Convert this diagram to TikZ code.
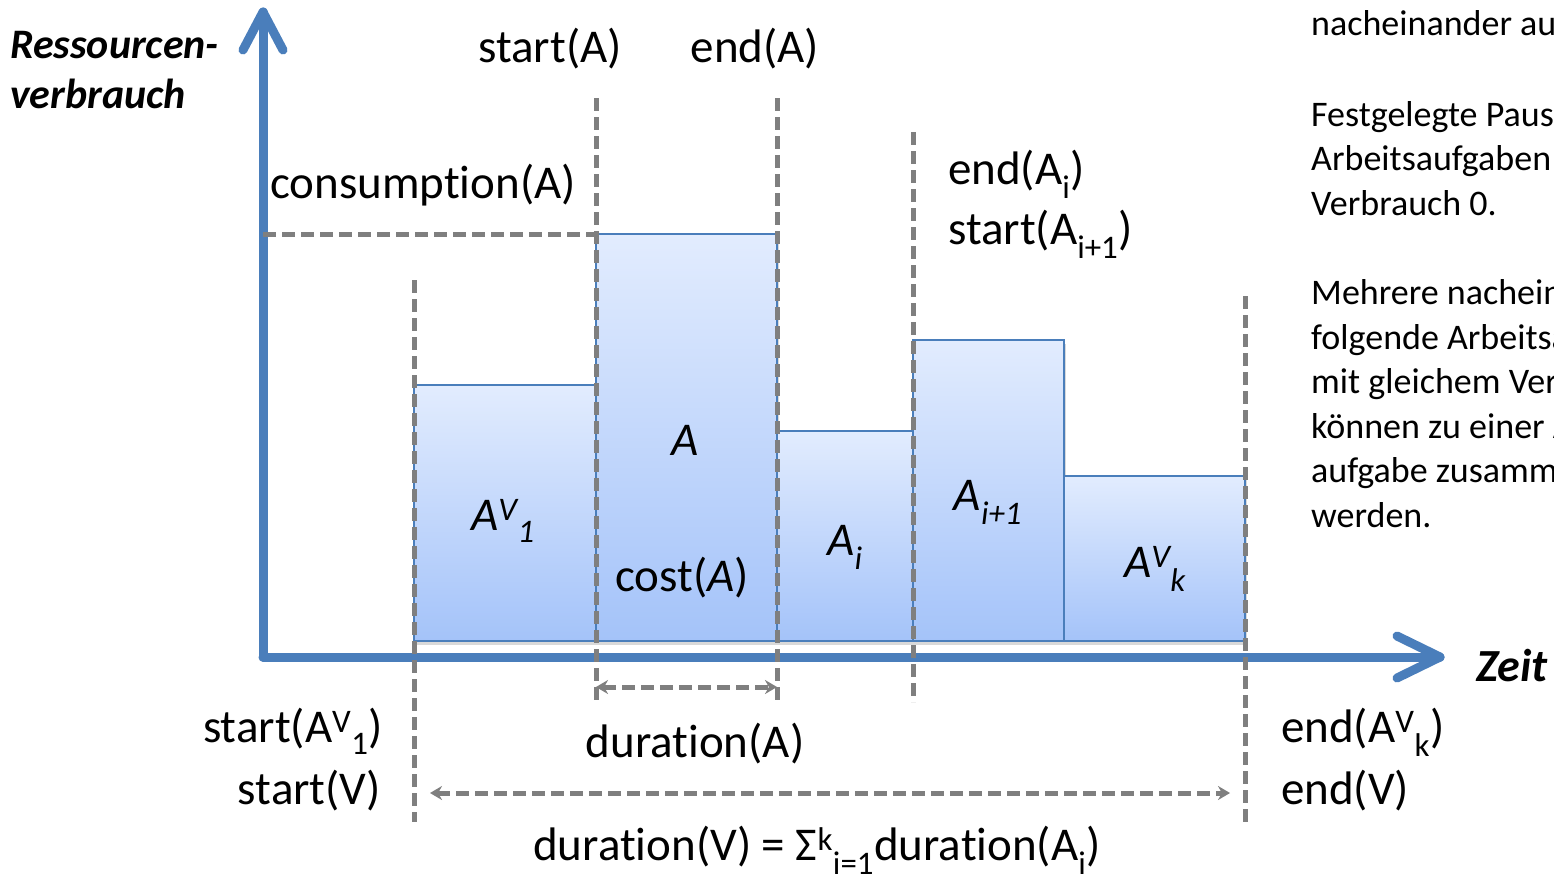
\documentclass[tikz,border=0pt]{standalone}
\usepackage{fontspec}
\setmainfont{Carlito}[Ligatures=NoCommon]
\usetikzlibrary{arrows.meta,shadows}
\definecolor{axisblue}{HTML}{4A7EBB}
\definecolor{guidegray}{HTML}{7F7F7F}
\definecolor{bartop}{HTML}{E2ECFE}
\definecolor{barbot}{HTML}{A4C3F9}
\tikzset{
 axis/.style={draw=axisblue,line width=9pt,line cap=round,line join=round},
 guide/.style={draw=guidegray,line width=5pt,dash pattern=on 13pt off 6pt},
 darrow/.style={guide,{Stealth[length=12pt,width=14pt]}-{Stealth[length=12pt,width=14pt]}},
 bar/.style={draw=axisblue,line width=1.5pt,top color=bartop,bottom color=barbot,inner sep=0pt,outer sep=0pt,anchor=south west,
   drop shadow={opacity=0.3,shadow xshift=2pt,shadow yshift=-4pt}},
 lbl/.style={inner sep=0pt,font=\fontsize{47}{56}\selectfont},
 ilbl/.style={inner sep=0pt,font=\fontsize{47}{56}\selectfont\itshape},
 side/.style={inner sep=0pt,anchor=base west,font=\fontsize{36}{44}\selectfont},
 bilbl/.style={inner sep=0pt,anchor=base west,font=\fontsize{42}{50}\selectfont\bfseries\itshape},
}
\begin{document}
\begin{tikzpicture}[x=1pt,y=-1pt]
\useasboundingbox (0,0) rectangle (1554,879);
% bars
\node[bar,minimum width=182pt,minimum height=256pt] (b1) at (414,641) {};
\node[bar,minimum width=181pt,minimum height=407pt] (b2) at (596,641) {};
\node[bar,minimum width=136pt,minimum height=210pt] (b3) at (777,641) {};
\node[bar,minimum width=151pt,minimum height=301pt] (b4) at (913,641) {};
\node[bar,minimum width=181pt,minimum height=165pt] (b5) at (1064,641) {};
% axes
\coordinate (origin) at (263,657);
\coordinate (ytip) at (263,12);
\coordinate (xtip) at (1440,657);
\draw[axis] (origin) -- (ytip);
\draw[axis] (origin) -- (xtip);
\coordinate (yl) at (243,50);
\coordinate (yr) at (283,50);
\draw[axis] (yl) -- (ytip) -- (yr);
\coordinate (xu) at (1397,636);
\coordinate (xd) at (1397,678);
\draw[axis] (xu) -- (xtip) -- (xd);
% guides
\coordinate (g1t) at (414,280); \coordinate (g1b) at (414,822);
\coordinate (g2t) at (596,98);  \coordinate (g2b) at (596,700);
\coordinate (g3t) at (777,98);  \coordinate (g3b) at (777,700);
\coordinate (g4t) at (913,132); \coordinate (g4b) at (913,702);
\coordinate (g5t) at (1245,296); \coordinate (g5b) at (1245,822);
\coordinate (hc1) at (263,234); \coordinate (hc2) at (596,234);
\draw[guide] (g1t) -- (g1b);
\draw[guide] (g2t) -- (g2b);
\draw[guide] (g3t) -- (g3b);
\draw[guide] (g4t) -- (g4b);
\draw[guide] (g5t) -- (g5b);
\draw[guide] (hc1) -- (hc2);
\coordinate (da1) at (596,687); \coordinate (da2) at (777,687);
\draw[darrow] (da1) -- (da2);
\coordinate (dv1) at (430,793); \coordinate (dv2) at (1230,793);
\draw[darrow] (dv1) -- (dv2);
% labels
\node[bilbl] (ylab1) at (10,58) {Ressourcen-};
\node[bilbl] (ylab2) at (10,108) {verbrauch};
\node[bilbl,font=\fontsize{46}{50}\selectfont\bfseries\itshape] (xlab) at (1476,681) {Zeit};
\node[lbl,anchor=base] (startA) at (550,62) {start(A)};
\node[lbl,anchor=base] (endA) at (755,62) {end(A)};
\node[lbl,anchor=base] (consA) at (423,198) {consumption(A)};
\node[lbl,anchor=base west] (endAi) at (948,184) {end(A\textsubscript{i})};
\node[lbl,anchor=base west] (startAi) at (948,244) {start(A\textsubscript{i+1})};
\node[ilbl,anchor=base] (lA) at (685,455) {A};
\node[lbl,anchor=base] (cost) at (682,591) {cost(\textit{A})};
\node[ilbl,anchor=base] (lAv1) at (503,530) {A\textsuperscript{V}\textsubscript{1}};
\node[ilbl,anchor=base] (lAi) at (845,555) {A\textsubscript{i}};
\node[ilbl,anchor=base] (lAi1) at (988,510) {A\textsubscript{i+1}};
\node[ilbl,anchor=base] (lAvk) at (1155,577) {A\textsuperscript{V}\textsubscript{k}};
\node[lbl,anchor=base east] (sAv1) at (383,742) {start(A\textsuperscript{V}\textsubscript{1})};
\node[lbl,anchor=base east] (sV) at (381,804) {start(V)};
\node[lbl,anchor=base] (durA) at (695,757) {duration(A)};
\node[lbl,anchor=base west] (eAvk) at (1281,742) {end(A\textsuperscript{V}\textsubscript{k})};
\node[lbl,anchor=base west] (eV) at (1281,804) {end(V)};
\node[lbl,anchor=base] (durV) at (817,860) {duration(V) = Σ\textsuperscript{k}\textsubscript{i=1}duration(A\textsubscript{i})};
% right text (cut by the picture edge, as in the reference)
\begin{scope}
\clip (1290,0) rectangle (1554,879);
\foreach \yy/\txt [count=\n] in {35/nacheinander ausgeführt.,126/Festgelegte Pausen zwischen,170/Arbeitsaufgaben haben,215/Verbrauch 0.,304/Mehrere nacheinander,349/folgende Arbeitsaufgaben,393/mit gleichem Verbrauch,438/können zu einer Arbeits-,482/aufgabe zusammengefasst,527/werden.}
  \node[side] (r\n) at (1311,\yy) {\txt};
\end{scope}
\end{tikzpicture}
\end{document}
